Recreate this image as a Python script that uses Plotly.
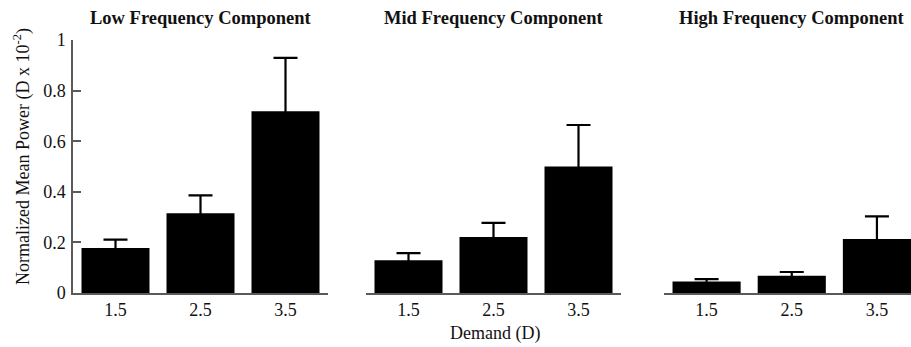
import plotly.graph_objects as go

demand = ["1.5", "2.5", "3.5"]
panel_titles = ["Low Frequency Component", "Mid Frequency Component", "High Frequency Component"]
low_mean = [0.178, 0.315, 0.718]
low_err = [0.033, 0.071, 0.211]
mid_mean = [0.129, 0.221, 0.500]
mid_err = [0.029, 0.056, 0.164]
high_mean = [0.045, 0.068, 0.213]
high_err = [0.010, 0.015, 0.090]
y_ticks = [0, 0.2, 0.4, 0.6, 0.8, 1]
y_tick_text = ["0", "0.2", "0.4", "0.6", "0.8", "1"]

W, H = 911, 347
FONT = "Liberation Serif, Times New Roman, serif"
AX = "#5a5a5a"
PH = H - 40 - 54

means = [low_mean, mid_mean, high_mean]
errs = [low_err, mid_err, high_err]
domains = [(73 / W, 328 / W), (366 / W, 621 / W), (664 / W, 1.0)]
xranges = [[-0.5, 2.5], [-0.5, 2.5], [-0.5, 2.4]]

fig = go.Figure()
for i in range(3):
    sfx = "" if i == 0 else str(i + 1)
    fig.add_trace(go.Bar(
        x=demand, y=means[i], width=0.8,
        marker=dict(color="black", line=dict(width=0)),
        error_y=dict(type="data", array=errs[i], symmetric=True,
                     color="black", thickness=2.2, width=12),
        xaxis="x" + sfx, yaxis="y" + sfx, showlegend=False,
    ))
    xa = dict(domain=list(domains[i]), type="category", range=xranges[i],
              showline=True, linecolor=AX, linewidth=1.5, ticks="",
              showgrid=False, zeroline=False, anchor="y" + sfx,
              tickfont=dict(family=FONT, size=18, color="#111"))
    ya = dict(domain=[0, 1], range=[0, 1], showgrid=False, zeroline=False,
              anchor="x" + sfx, fixedrange=True)
    if i == 0:
        ya.update(showline=True, linecolor=AX, linewidth=1.5, ticks="inside", ticklen=8,
                  tickcolor=AX, tickwidth=1.5, tickvals=y_ticks, ticktext=y_tick_text,
                  tickfont=dict(family=FONT, size=18, color="#111"), ticklabelstandoff=2)
    else:
        ya.update(showline=False, showticklabels=False, ticks="")
    fig.layout["xaxis" + sfx] = xa
    fig.layout["yaxis" + sfx] = ya
    cx = (domains[i][0] * W + 127.5) / W
    fig.add_annotation(text="<b>" + panel_titles[i] + "</b>", x=cx, y=1 + (40 - 18) / PH,
                       xref="paper", yref="paper", yanchor="middle", xanchor="center",
                       showarrow=False, font=dict(family=FONT, size=18.5, color="#111"))

fig.add_annotation(text="Demand (D)", x=495 / W, y=-(333 - 293) / PH,
                   xref="paper", yref="paper", xanchor="center", yanchor="middle",
                   showarrow=False, font=dict(family=FONT, size=18, color="#111"))
fig.add_annotation(text="Normalized Mean Power (D x 10<sup>-2</sup>)", textangle=-90,
                   x=22 / W, y=(293 - 157) / PH,
                   xref="paper", yref="paper", xanchor="center", yanchor="middle",
                   showarrow=False, font=dict(family=FONT, size=18, color="#111"))

fig.update_layout(width=W, height=H, margin=dict(l=0, r=0, t=40, b=54),
                  plot_bgcolor="white", paper_bgcolor="white", bargap=0.2)

fig.write_html("out.html")
